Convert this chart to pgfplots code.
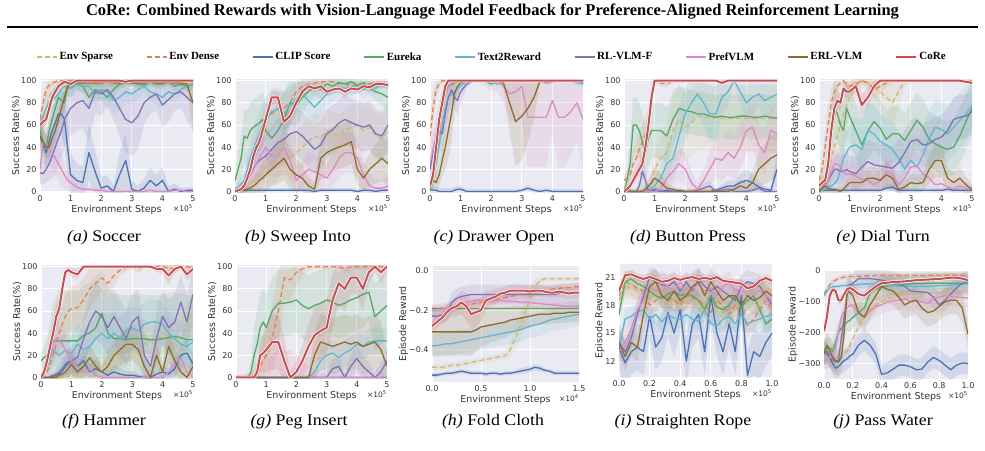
\documentclass[border=0pt]{standalone}
\usepackage{graphicx}
\usepackage{pgfplots}
\pgfplotsset{compat=1.18}
\usepackage{pgfplotstable}
\usepgfplotslibrary{fillbetween}
\usepackage{fontspec}
\setmainfont{Liberation Serif}
\newfontfamily\dejavu{DejaVu Sans}

\definecolor{cS}{HTML}{CCB974}
\definecolor{cD}{HTML}{DD8452}
\definecolor{cC}{HTML}{4C72B0}
\definecolor{cE}{HTML}{55A868}
\definecolor{cT}{HTML}{64B5CD}
\definecolor{cR}{HTML}{8172B3}
\definecolor{cP}{HTML}{DA8BC3}
\definecolor{cB}{HTML}{8C6D2C}
\definecolor{cK}{HTML}{C44E52}
\definecolor{bgc}{HTML}{EAEAF2}
\definecolor{txt}{HTML}{333333}

\pgfplotsset{
  rl/.style={
    scale only axis, width=153pt, height=113pt, anchor=south west,
    axis background/.style={fill=bgc},
    axis line style={draw=none},
    major tick length=0pt,
    grid=major, grid style={white, line width=0.9pt},
    tick label style={font=\dejavu\fontsize{8}{9}\selectfont, text=txt},
    label style={font=\dejavu\fontsize{9.5}{11}\selectfont, text=txt},
    xlabel style={yshift=3pt},
    ylabel style={yshift=-6pt},
    /pgf/number format/assume math mode=true,
    scaled ticks=false,
    xlabel={Environment Steps},
    every axis plot/.append style={line join=round},
    legend image code/.code={\draw[##1] (0pt,0pt) -- (20pt,0pt);},
  },
  sr/.style={xmin=0, xmax=5, xtick={0,1,2,3,4,5}, ymin=-0.5, ymax=101.5,
    ytick={0,20,40,60,80,100}, ylabel={Success Rate(\%)}},
  xnote/.style={extra description/.code={
    \node[anchor=north east, inner sep=0pt, yshift=-12pt,
      font=\dejavu\fontsize{7.5}{8}\selectfont, text=txt] at (1,0) {×10\textsuperscript{#1}};}},
  lnS/.style={cS, line width=1.3pt, dash pattern=on 5pt off 3pt},
  lnD/.style={cD, line width=1.3pt, dash pattern=on 5pt off 3pt},
  lnC/.style={cC, line width=1.3pt},
  lnE/.style={cE, line width=1.3pt},
  lnT/.style={cT, line width=1.3pt},
  lnR/.style={cR, line width=1.3pt},
  lnP/.style={cP, line width=1.3pt},
  lnB/.style={cB, line width=1.3pt},
  lnK/.style={cK, line width=2pt},
}

% shaded spread band of one series: column #2 with its spread in column #2e
\newcommand\band[3]{%
  \addplot[draw=none, forget plot, name path=u#2] table[x=x, y expr=\thisrow{#2}+\thisrow{#2e}]{#1};
  \addplot[draw=none, forget plot, name path=l#2] table[x=x, y expr=\thisrow{#2}-\thisrow{#2e}]{#1};
  \addplot[fill=#3, fill opacity=0.15, draw=none, forget plot] fill between[of=u#2 and l#2];
}
% all nine methods of one task
\newcommand\curves[1]{%
  \band{#1}{S}{cS}\band{#1}{D}{cD}\band{#1}{C}{cC}\band{#1}{E}{cE}\band{#1}{T}{cT}%
  \band{#1}{R}{cR}\band{#1}{P}{cP}\band{#1}{B}{cB}\band{#1}{K}{cK}%
  \addplot[lnS] table[x=x, y=S]{#1};
  \addplot[lnD] table[x=x, y=D]{#1};
  \addplot[lnC] table[x=x, y=C]{#1};
  \addplot[lnE] table[x=x, y=E]{#1};
  \addplot[lnT] table[x=x, y=T]{#1};
  \addplot[lnR] table[x=x, y=R]{#1};
  \addplot[lnP] table[x=x, y=P]{#1};
  \addplot[lnB] table[x=x, y=B]{#1};
  \addplot[white, line width=3.4pt, forget plot] table[x=x, y=K]{#1};
  \addplot[lnK] table[x=x, y=K]{#1};
}
% sub-figure caption
\newcommand\subcap[3]{\node at (#1,-#2) {\scalebox{1.1}[1]{#3}};}

% Soccer
\pgfplotstableread{
x S Se D De C Ce E Ee T Te R Re P Pe B Be K Ke
0.0 50 12 65 10 50 15 55 12 60 12 17 10 20 15 50 10 60 5
0.1 60 12 80 8 42 15 45 12 68 12 16 10 45 15 45 10 63 5
0.2 75 12 92 6 35 15 40 12 75 12 20 12 42 15 40 10 65 5
0.3 85 10 96 4 45 18 55 12 80 10 25 15 38 15 40 10 75 5
0.4 90 8 98 3 55 20 65 12 82 10 32 20 35 15 48 10 85 4
0.5 93 6 99 2 62 20 75 10 85 10 40 25 30 15 55 10 90 3
0.6 95 5 100 2 70 20 85 10 88 10 48 25 25 15 65 10 95 3
0.7 96 5 100 2 70 20 82 10 92 8 55 25 20 15 75 10 97 2
0.8 97 4 100 2 65 25 80 10 95 8 65 25 15 12 85 10 99 2
0.9 97 4 100 2 40 25 95 8 94 8 70 25 10 10 95 5 98 2
1.0 96 4 100 2 15 20 93 8 93 8 75 25 8 8 97 3 97 2
1.2 97 4 99 2 10 15 97 5 97 6 80 25 4 5 98 3 100 1
1.4 96 4 100 2 8 15 95 6 95 6 82 25 2 4 98 3 100 1
1.6 97 4 100 2 35 25 85 10 95 8 75 30 2 3 98 3 100 1
1.8 96 4 99 2 18 20 92 8 88 10 90 20 1 2 98 3 100 1
2.0 97 4 100 2 3 10 90 8 92 8 88 20 1 2 98 3 100 1
2.2 98 3 100 2 5 10 85 10 90 8 92 15 0 2 99 3 100 1
2.4 97 3 100 2 0 5 92 8 82 12 85 20 0 2 98 3 100 1
2.6 96 3 99 2 15 20 97 4 85 12 75 25 0 2 98 3 100 1
2.8 97 3 100 2 28 25 98 3 90 10 65 30 0 2 99 3 99 1
3.0 98 3 100 2 2 8 98 3 88 10 62 30 0 2 98 3 100 1
3.2 97 3 100 2 0 5 97 4 92 8 68 30 0 2 98 3 100 1
3.4 98 3 100 2 3 8 96 4 95 6 80 20 0 2 98 3 100 1
3.6 98 3 100 2 10 12 99 2 90 8 85 15 1 2 99 3 100 1
3.8 97 3 100 2 5 10 97 4 88 10 88 15 0 2 98 3 100 1
4.0 98 3 100 2 10 12 97 4 85 10 78 20 0 2 98 3 100 1
4.2 98 3 100 2 0 5 99 2 90 8 83 20 0 2 99 3 100 1
4.4 97 3 100 2 2 5 95 5 88 8 88 15 1 2 98 3 100 1
4.6 98 3 100 2 0 3 97 4 92 6 90 15 1 2 98 3 100 1
4.8 98 3 100 2 1 3 95 5 95 5 85 20 0 2 97 5 100 1
5.0 97 3 100 2 1 3 97 4 97 4 80 25 0 2 80 25 100 1
}\tA

% Sweep Into
\pgfplotstableread{
x S Se D De C Ce E Ee T Te R Re P Pe B Be K Ke
0.0 0 2 0 2 2 2 10 8 2 2 0 2 0 2 0 2 0 1
0.1 0 3 1 3 1 2 20 15 4 4 1 3 1 3 0 2 1 1
0.2 0 4 2 4 1 2 30 20 7 6 2 4 2 4 1 3 2 2
0.3 0 5 5 5 1 2 50 25 10 8 5 6 5 6 1 4 5 3
0.4 0 6 10 8 1 2 48 25 20 12 10 8 10 8 2 5 12 4
0.5 1 8 20 10 1 2 55 25 30 15 15 10 15 10 3 6 20 5
0.6 5 10 30 12 1 2 58 25 38 18 20 12 20 12 5 8 32 6
0.7 10 12 40 15 1 2 60 25 45 20 25 15 25 15 7 10 40 6
0.8 15 14 48 15 1 2 62 25 52 20 28 18 30 18 10 12 45 6
0.9 20 15 55 15 1 2 65 25 60 20 30 20 35 20 12 14 55 6
1.0 22 15 65 15 1 2 55 25 65 20 32 20 40 20 15 15 65 6
1.2 20 15 70 15 1 2 48 25 72 20 38 20 32 20 20 15 85 6
1.4 30 18 75 15 1 2 55 25 74 20 44 22 32 20 25 18 85 6
1.6 35 20 75 15 1 2 65 25 70 20 47 22 40 20 30 20 63 8
1.8 30 20 80 12 1 2 80 20 78 18 52 22 28 18 20 18 68 8
2.0 35 20 90 10 1 2 78 20 83 15 54 22 10 12 15 15 80 6
2.2 40 20 95 8 1 2 85 15 88 12 50 22 15 12 12 12 90 5
2.4 45 20 96 6 1 2 90 10 82 15 44 22 20 15 5 8 95 4
2.6 50 20 98 4 0 2 95 8 76 15 38 22 18 15 2 6 93 4
2.8 48 20 99 3 1 2 92 8 82 15 42 22 15 15 30 20 95 4
3.0 55 20 99 3 1 2 97 5 88 12 52 22 12 12 35 20 90 4
3.2 52 20 99 3 1 2 95 6 91 10 56 22 20 15 38 20 92 4
3.4 50 20 98 3 1 2 98 4 94 8 62 22 30 18 40 20 93 4
3.6 55 20 97 3 1 2 97 4 93 8 65 22 35 18 42 20 90 4
3.8 58 20 96 4 1 2 99 3 94 8 62 22 35 18 45 20 93 4
4.0 60 20 95 4 0 2 96 5 95 6 60 22 30 18 20 15 92 4
4.2 55 20 96 4 1 2 98 4 92 8 58 22 15 15 12 12 95 4
4.4 58 20 97 3 1 2 93 6 95 6 60 22 5 10 20 15 94 4
4.6 50 20 98 3 0 2 90 8 93 6 52 22 3 8 25 18 97 3
4.8 48 20 97 3 1 2 88 10 97 4 50 22 3 8 30 20 97 3
5.0 55 20 97 3 1 2 85 12 96 4 60 22 5 8 25 20 96 3
}\tB

% Drawer Open
\pgfplotstableread{
x S Se D De C Ce E Ee T Te R Re P Pe B Be K Ke
0.0 0 2 50 15 2 3 5 5 5 5 20 10 25 15 5 5 5 3
0.1 15 10 75 15 1 3 15 10 12 10 35 15 38 15 10 8 15 8
0.2 30 15 92 8 1 3 30 15 25 15 45 15 50 15 8 8 40 10
0.3 50 15 97 4 0 3 55 15 42 15 55 15 65 15 15 10 65 10
0.4 70 15 100 2 0 3 80 12 60 15 52 18 80 12 28 15 80 8
0.5 85 10 100 1 0 3 90 8 75 15 70 18 90 8 40 20 95 4
0.6 95 5 100 1 0 3 95 5 85 12 85 15 95 5 55 25 100 1
0.7 97 3 100 1 0 3 97 3 88 10 92 10 98 3 70 25 100 1
0.8 98 2 100 1 1 3 98 2 90 10 85 12 100 2 88 15 100 1
0.9 99 1 100 1 2 3 99 1 93 8 82 12 100 2 95 8 100 1
1.0 100 1 100 1 2 3 100 1 95 6 90 10 100 2 98 3 100 1
1.2 100 1 100 1 0 2 100 1 100 2 97 4 100 2 100 1 100 1
1.4 100 1 100 1 0 2 100 1 100 1 100 1 100 2 100 1 100 1
1.6 100 1 100 1 0 2 100 1 100 1 100 1 100 2 100 1 100 1
1.8 100 1 100 1 0 2 100 1 100 1 100 1 100 5 100 1 100 1
2.0 100 1 100 1 0 2 97 3 100 1 100 1 100 10 100 1 100 1
2.2 100 1 100 1 0 2 100 1 97 3 100 1 100 10 100 1 100 1
2.4 100 1 100 1 0 2 100 1 100 1 100 1 95 15 98 5 100 1
2.6 100 1 100 1 0 2 100 1 100 1 100 1 88 25 80 25 100 1
2.8 100 1 100 1 0 2 100 1 100 1 100 1 90 25 63 40 100 1
3.0 100 1 100 1 1 2 100 1 100 1 100 1 95 30 68 40 100 1
3.2 100 1 100 1 3 3 100 1 100 1 100 1 67 45 75 30 100 1
3.4 100 1 100 1 1 2 100 1 100 1 100 1 67 45 85 20 100 1
3.6 100 1 100 1 0 2 100 1 100 1 100 1 67 45 100 2 100 1
3.8 100 1 100 1 1 2 100 1 100 1 98 2 67 45 100 1 100 1
4.0 100 1 100 1 0 2 100 1 100 1 99 1 82 30 100 1 100 1
4.2 100 1 100 1 0 2 100 1 100 1 100 1 67 45 100 1 100 1
4.4 100 1 100 1 0 2 100 1 100 1 100 1 67 45 100 1 100 1
4.6 100 1 100 1 0 2 100 1 100 1 100 1 72 40 100 1 100 1
4.8 100 1 100 1 0 2 100 1 98 2 100 1 80 35 100 1 100 1
5.0 100 1 100 1 0 2 100 1 97 3 98 2 65 45 100 1 100 1
}\tC

% Button Press
\pgfplotstableread{
x S Se D De C Ce E Ee T Te R Re P Pe B Be K Ke
0.0 0 1 10 5 0 1 0 1 0 1 0 1 0 1 0 1 0 1
0.1 0 1 12 8 3 3 10 10 1 2 0 1 0 1 0 1 2 2
0.2 0 1 15 10 1 2 25 20 1 2 0 1 0 1 0 1 5 3
0.3 0 1 25 12 0 1 60 25 0 2 0 2 0 1 0 1 10 5
0.4 0 1 30 15 0 1 60 25 0 2 0 3 0 1 0 1 15 6
0.5 0 2 38 15 0 1 55 25 0 2 5 6 0 1 0 2 20 6
0.6 0 3 45 15 0 1 45 25 0 2 18 15 0 1 0 2 25 8
0.7 1 4 52 15 0 1 35 25 0 3 10 12 0 1 2 4 40 10
0.8 2 6 60 15 0 1 48 25 1 4 0 5 0 1 5 6 60 12
0.9 8 10 90 8 0 1 55 25 3 5 1 3 0 2 8 8 85 8
1.0 20 15 100 2 1 2 55 25 5 8 2 3 0 3 12 10 100 1
1.2 30 20 98 3 0 1 55 25 12 12 0 2 2 5 8 8 100 1
1.4 35 25 97 3 1 2 50 25 25 18 0 2 12 10 3 5 100 1
1.6 55 30 100 2 0 1 65 25 30 20 0 2 18 12 2 3 100 1
1.8 65 30 100 2 1 2 75 20 50 25 0 2 25 15 0 2 100 1
2.0 58 30 100 2 0 1 73 20 70 25 0 2 20 15 0 2 100 1
2.2 62 30 100 1 0 1 72 20 80 20 0 2 8 10 0 2 100 1
2.4 68 30 100 1 0 1 70 20 88 15 1 2 2 5 0 2 100 1
2.6 67 30 100 1 0 1 70 20 80 20 3 4 10 10 0 2 100 1
2.8 67 30 100 1 0 1 68 20 70 25 5 5 20 15 0 2 100 1
3.0 67 30 100 1 1 2 67 20 70 25 0 3 30 18 0 2 100 1
3.2 66 30 100 1 3 3 68 20 85 15 1 2 28 18 0 2 98 2
3.4 66 30 100 1 5 5 67 20 90 12 2 3 35 20 0 2 100 1
3.6 66 30 100 1 5 5 67 20 100 5 0 2 30 20 2 4 100 1
3.8 66 30 100 1 8 8 68 20 90 12 0 2 40 20 5 6 100 1
4.0 66 30 100 1 10 10 68 20 80 18 0 2 55 20 3 5 100 1
4.2 66 30 100 1 8 8 67 20 85 15 1 2 58 20 8 10 100 1
4.4 66 30 100 1 4 5 67 20 88 12 3 4 42 20 20 15 100 1
4.6 66 30 100 1 2 3 68 20 82 15 0 2 35 20 25 18 100 1
4.8 66 30 100 1 1 2 67 20 85 15 0 2 55 20 30 20 100 1
5.0 66 30 100 1 20 15 66 20 88 12 0 2 52 20 33 20 100 1
}\tD

% Dial Turn
\pgfplotstableread{
x S Se D De C Ce E Ee T Te R Re P Pe B Be K Ke
0.0 0 2 10 5 2 2 5 5 0 2 0 2 0 2 0 2 5 3
0.1 1 5 20 10 1 2 8 8 1 3 3 4 3 4 3 3 8 4
0.2 5 10 40 15 1 2 12 12 2 4 7 6 6 6 5 5 10 6
0.3 15 15 60 20 1 2 20 20 3 5 10 8 10 8 3 4 25 10
0.4 30 20 80 15 1 2 50 25 5 8 15 10 18 10 2 3 55 12
0.5 40 25 90 10 1 2 75 25 7 10 20 12 25 12 2 3 75 10
0.6 50 25 95 6 1 2 70 25 10 12 20 14 25 12 1 3 82 8
0.7 60 25 98 4 1 2 60 25 20 15 18 15 22 12 0 3 80 8
0.8 70 25 100 3 1 2 55 25 30 20 18 15 18 12 2 4 93 6
0.9 78 20 97 4 1 2 75 25 35 20 20 15 15 12 5 6 90 6
1.0 85 15 95 5 1 2 68 25 40 20 18 15 16 12 8 8 90 6
1.2 95 10 97 4 1 2 55 25 42 25 16 15 14 12 8 8 95 5
1.4 100 5 100 3 1 2 42 25 38 25 22 18 11 12 8 8 78 10
1.6 97 6 98 4 1 2 55 25 55 25 27 20 10 10 12 10 85 8
1.8 95 8 92 8 1 2 63 25 52 25 24 20 6 8 12 10 95 5
2.0 90 10 95 6 1 2 57 25 45 25 23 20 10 10 10 10 100 2
2.2 85 15 98 4 3 3 47 25 42 25 22 20 18 12 15 12 100 1
2.4 80 20 100 2 4 4 52 25 38 25 21 20 15 12 12 10 100 1
2.6 90 15 100 2 1 2 52 25 30 25 26 20 6 8 2 4 100 1
2.8 100 5 100 1 1 2 46 25 20 20 35 20 12 10 4 5 100 1
3.0 100 3 100 1 1 2 55 25 28 25 45 20 22 12 8 8 100 1
3.2 100 2 100 1 1 2 64 25 22 22 47 20 23 12 7 8 100 1
3.4 100 2 100 1 1 2 58 25 33 25 42 20 16 12 8 8 100 1
3.6 100 2 100 1 1 2 47 25 48 25 43 20 12 10 20 12 100 1
3.8 100 2 100 1 1 2 43 25 58 25 47 20 6 8 28 15 100 1
4.0 100 2 100 1 1 2 40 25 56 25 49 20 7 8 28 15 100 1
4.2 100 2 100 1 2 2 38 25 52 25 55 20 4 5 12 10 100 1
4.4 100 2 100 1 1 2 40 25 58 25 65 20 2 4 8 8 100 1
4.6 100 2 100 1 1 2 50 25 64 25 67 20 5 6 12 10 100 1
4.8 100 2 100 1 1 2 63 25 70 25 68 20 3 5 6 8 99 1
5.0 100 2 100 1 1 2 75 25 78 20 72 20 2 4 2 4 98 2
}\tE

% Hammer
\pgfplotstableread{
x S Se D De C Ce E Ee T Te R Re P Pe B Be K Ke
0.0 0 1 0 2 0 1 15 5 0 2 0 1 0 2 0 1 0 2
0.1 0 1 2 3 0 1 18 10 5 5 0 1 5 5 0 1 5 4
0.2 0 1 5 5 0 1 20 15 10 8 0 1 12 8 0 1 15 8
0.3 0 1 12 8 0 1 25 25 18 10 1 2 20 10 0 1 28 10
0.4 0 1 20 10 1 2 33 35 25 12 2 3 30 12 0 1 40 12
0.5 0 1 30 12 2 3 33 40 22 15 3 4 35 15 0 2 55 12
0.6 0 1 40 15 3 4 33 45 20 15 5 6 33 15 2 3 62 10
0.7 0 2 48 18 6 6 33 45 22 15 8 8 30 15 3 4 80 8
0.8 1 2 55 20 10 8 33 45 25 15 12 10 25 15 5 6 95 4
0.9 1 3 60 20 13 10 33 45 23 15 14 12 20 12 8 8 97 3
1.0 2 3 62 20 15 10 33 45 22 15 15 12 15 12 12 10 95 4
1.2 3 4 63 20 10 8 33 45 30 18 18 15 10 10 5 8 93 5
1.4 5 5 70 20 15 10 38 45 25 18 35 20 5 8 10 10 100 2
1.6 6 6 80 18 5 6 40 45 28 20 50 25 8 8 18 12 100 1
1.8 8 8 85 15 8 8 45 45 35 20 60 25 2 4 10 10 100 1
2.0 10 10 90 12 5 6 58 40 40 20 55 25 0 2 5 8 100 1
2.2 14 12 85 15 2 4 40 40 35 20 45 25 0 2 10 10 100 1
2.4 18 14 92 10 5 6 35 40 40 20 55 25 0 2 20 12 100 1
2.6 22 15 97 5 3 5 35 40 35 20 45 25 0 2 25 15 100 1
2.8 25 15 99 3 2 4 34 40 42 20 35 25 0 2 30 15 100 1
3.0 32 15 100 2 2 4 35 40 45 20 50 25 0 2 30 15 100 1
3.2 35 15 98 4 1 3 35 40 42 20 55 25 0 2 25 15 100 1
3.4 38 15 100 2 0 2 35 40 48 20 20 20 0 2 10 10 100 1
3.6 32 15 100 2 0 2 34 40 50 20 10 15 0 2 0 5 100 1
3.8 30 15 100 2 3 4 34 40 50 20 35 25 0 2 20 12 98 3
4.0 40 18 100 2 5 6 35 40 48 20 55 25 0 2 5 8 98 4
4.2 38 18 99 3 3 5 36 40 40 20 45 25 5 6 28 15 92 8
4.4 25 15 98 4 8 8 37 40 35 20 50 25 12 10 15 12 98 4
4.6 35 18 100 2 20 12 36 40 30 20 68 25 18 12 5 8 100 2
4.8 45 20 100 2 22 12 34 40 28 20 50 25 5 6 0 5 93 6
5.0 60 20 99 3 12 10 34 40 32 20 75 25 0 3 10 10 98 4
}\tF

% Peg Insert
\pgfplotstableread{
x S Se D De C Ce E Ee T Te R Re P Pe B Be K Ke
0.0 0 1 0 2 0 1 0 2 0 1 0 1 0 1 0 1 0 1
0.1 0 1 0 2 0 1 0 2 0 1 0 1 0 1 0 1 0 1
0.2 0 1 0 2 0 1 0 2 0 1 0 1 0 1 0 1 0 1
0.3 0 1 0 2 0 1 0 3 0 1 0 1 0 1 0 1 0 1
0.4 0 1 0 3 0 1 0 5 0 1 0 1 0 2 0 1 0 1
0.5 0 1 0 5 0 1 5 10 0 1 0 1 0 3 0 1 0 2
0.6 0 1 0 8 1 2 20 25 0 1 0 1 0 5 0 1 0 3
0.7 0 1 2 10 0 1 30 30 0 1 0 1 0 8 0 1 5 8
0.8 0 1 10 15 0 1 45 30 0 1 0 1 0 10 0 1 20 15
0.9 0 1 15 20 0 1 50 30 0 1 0 1 0 12 0 1 22 18
1.0 0 1 20 25 0 1 45 30 0 1 0 1 0 15 0 1 25 20
1.2 0 1 35 30 0 1 60 30 0 1 0 1 0 20 0 1 32 25
1.4 0 1 60 35 0 1 67 30 0 1 0 1 0 25 0 1 32 25
1.6 0 1 90 20 0 1 67 30 0 1 0 1 0 25 0 1 15 20
1.8 0 1 88 20 0 1 68 30 0 1 0 1 0 25 0 1 0 5
2.0 0 1 95 12 0 1 70 30 0 1 0 1 0 20 0 1 5 10
2.2 0 1 98 6 0 1 65 30 0 1 0 2 0 15 0 1 15 15
2.4 0 1 100 3 0 1 62 30 0 2 0 2 0 10 0 2 28 20
2.6 0 1 100 2 0 1 65 30 5 5 0 2 0 8 20 20 38 25
2.8 0 1 100 2 0 1 67 30 15 10 0 3 0 5 32 25 42 25
3.0 0 1 100 2 0 1 70 30 20 12 0 5 0 5 30 25 45 25
3.2 0 1 100 2 0 1 68 30 22 12 8 8 0 5 28 25 70 25
3.4 0 1 100 2 0 1 65 30 18 12 10 10 0 5 30 25 85 20
3.6 0 1 98 4 0 1 67 30 22 12 0 5 0 5 32 25 80 20
3.8 0 1 100 2 0 1 70 30 25 12 10 10 0 5 30 25 90 15
4.0 0 1 100 2 0 1 72 30 30 12 17 12 0 5 32 25 90 15
4.2 0 1 100 2 0 1 75 30 28 12 10 10 0 5 28 25 80 20
4.4 0 1 100 2 0 1 77 25 32 12 5 8 0 5 30 25 95 10
4.6 0 1 100 2 0 1 55 30 33 12 0 5 0 5 32 25 100 5
4.8 0 1 100 2 0 1 60 30 33 12 5 8 0 5 25 25 95 10
5.0 0 1 100 2 0 1 65 30 33 12 15 10 0 5 10 15 100 5
}\tG

% Fold Cloth
\pgfplotstableread{
x S Se D De C Ce E Ee T Te R Re P Pe B Be K Ke
0.00 -0.49 0.015 -0.19 0.02 -0.53 0.01 -0.19 0.005 -0.38 0.06 -0.23 0.04 -0.20 0.03 -0.31 0.12 -0.28 0.03
0.05 -0.49 0.015 -0.19 0.02 -0.53 0.01 -0.19 0.005 -0.38 0.06 -0.23 0.04 -0.20 0.03 -0.31 0.12 -0.26 0.03
0.10 -0.49 0.015 -0.19 0.02 -0.525 0.01 -0.19 0.005 -0.375 0.06 -0.225 0.04 -0.195 0.03 -0.31 0.12 -0.24 0.03
0.15 -0.485 0.015 -0.19 0.02 -0.52 0.01 -0.19 0.005 -0.37 0.06 -0.22 0.04 -0.19 0.03 -0.31 0.12 -0.21 0.04
0.20 -0.48 0.015 -0.19 0.02 -0.52 0.01 -0.19 0.005 -0.37 0.06 -0.16 0.05 -0.185 0.03 -0.31 0.12 -0.19 0.04
0.25 -0.48 0.015 -0.185 0.02 -0.515 0.01 -0.19 0.005 -0.365 0.06 -0.14 0.05 -0.18 0.03 -0.31 0.12 -0.18 0.05
0.30 -0.475 0.015 -0.18 0.02 -0.51 0.01 -0.19 0.005 -0.36 0.06 -0.13 0.05 -0.17 0.03 -0.31 0.12 -0.16 0.06
0.35 -0.47 0.015 -0.175 0.02 -0.515 0.01 -0.19 0.005 -0.355 0.06 -0.125 0.05 -0.16 0.03 -0.31 0.12 -0.18 0.07
0.40 -0.465 0.015 -0.17 0.02 -0.52 0.01 -0.19 0.005 -0.35 0.06 -0.12 0.05 -0.155 0.03 -0.31 0.12 -0.22 0.07
0.45 -0.46 0.015 -0.165 0.02 -0.52 0.01 -0.19 0.005 -0.345 0.06 -0.12 0.05 -0.15 0.03 -0.30 0.11 -0.21 0.07
0.50 -0.455 0.015 -0.16 0.02 -0.52 0.01 -0.19 0.005 -0.34 0.06 -0.12 0.05 -0.15 0.03 -0.285 0.10 -0.20 0.06
0.55 -0.45 0.015 -0.155 0.02 -0.525 0.01 -0.19 0.005 -0.335 0.06 -0.12 0.05 -0.15 0.03 -0.28 0.10 -0.15 0.05
0.60 -0.445 0.015 -0.15 0.02 -0.52 0.01 -0.19 0.005 -0.33 0.06 -0.12 0.05 -0.15 0.03 -0.275 0.09 -0.14 0.04
0.65 -0.44 0.015 -0.145 0.02 -0.52 0.01 -0.19 0.005 -0.325 0.06 -0.12 0.05 -0.15 0.03 -0.27 0.09 -0.13 0.04
0.70 -0.435 0.015 -0.14 0.02 -0.525 0.01 -0.19 0.005 -0.32 0.06 -0.12 0.05 -0.15 0.03 -0.265 0.08 -0.115 0.03
0.75 -0.43 0.02 -0.135 0.02 -0.52 0.01 -0.19 0.005 -0.315 0.06 -0.12 0.05 -0.155 0.03 -0.26 0.08 -0.11 0.03
0.80 -0.40 0.04 -0.13 0.02 -0.52 0.01 -0.19 0.005 -0.31 0.06 -0.12 0.05 -0.155 0.03 -0.25 0.07 -0.10 0.03
0.85 -0.34 0.06 -0.125 0.02 -0.515 0.01 -0.19 0.005 -0.305 0.06 -0.12 0.05 -0.155 0.03 -0.245 0.07 -0.10 0.03
0.90 -0.28 0.07 -0.12 0.02 -0.51 0.015 -0.19 0.005 -0.30 0.06 -0.12 0.05 -0.16 0.03 -0.24 0.06 -0.10 0.03
0.95 -0.21 0.07 -0.12 0.02 -0.505 0.015 -0.19 0.005 -0.29 0.06 -0.12 0.05 -0.16 0.03 -0.235 0.06 -0.10 0.03
1.00 -0.14 0.06 -0.115 0.02 -0.50 0.015 -0.19 0.005 -0.28 0.06 -0.12 0.05 -0.16 0.03 -0.23 0.06 -0.105 0.03
1.05 -0.08 0.04 -0.11 0.02 -0.49 0.015 -0.19 0.005 -0.275 0.06 -0.12 0.05 -0.165 0.03 -0.225 0.05 -0.10 0.03
1.10 -0.05 0.02 -0.105 0.02 -0.495 0.015 -0.19 0.005 -0.27 0.06 -0.12 0.05 -0.165 0.03 -0.22 0.05 -0.10 0.03
1.15 -0.04 0.01 -0.10 0.02 -0.505 0.01 -0.19 0.005 -0.26 0.06 -0.12 0.05 -0.17 0.03 -0.22 0.05 -0.105 0.03
1.20 -0.04 0.01 -0.095 0.02 -0.51 0.01 -0.19 0.005 -0.25 0.06 -0.12 0.05 -0.17 0.03 -0.22 0.05 -0.11 0.03
1.25 -0.04 0.01 -0.09 0.02 -0.52 0.01 -0.19 0.005 -0.245 0.06 -0.12 0.05 -0.175 0.03 -0.215 0.05 -0.11 0.03
1.30 -0.04 0.01 -0.09 0.02 -0.52 0.01 -0.19 0.005 -0.24 0.06 -0.115 0.05 -0.175 0.03 -0.215 0.05 -0.105 0.03
1.35 -0.04 0.01 -0.085 0.02 -0.52 0.01 -0.19 0.005 -0.235 0.06 -0.115 0.05 -0.18 0.03 -0.215 0.05 -0.11 0.03
1.40 -0.04 0.01 -0.085 0.02 -0.52 0.01 -0.19 0.005 -0.23 0.06 -0.115 0.05 -0.18 0.03 -0.21 0.05 -0.115 0.03
1.45 -0.04 0.01 -0.08 0.02 -0.52 0.01 -0.19 0.005 -0.225 0.06 -0.115 0.05 -0.18 0.03 -0.21 0.05 -0.11 0.03
1.50 -0.04 0.01 -0.08 0.02 -0.52 0.01 -0.19 0.005 -0.22 0.06 -0.11 0.05 -0.18 0.03 -0.21 0.05 -0.11 0.03
}\tH

% Straighten Rope
\pgfplotstableread{
x S Se D De C Ce E Ee T Te R Re P Pe B Be K Ke
0.00 18.5 1.2 19.0 1.2 13.5 2.5 17.0 1.0 13.5 1.0 14.0 1.2 13.0 1.2 14.0 1.5 19.5 0.4
0.04 20.0 1.2 20.5 1.2 11.8 2.5 20.5 1.0 16.5 1.0 13.0 1.2 14.0 1.2 12.5 1.5 21.2 0.4
0.08 19.8 1.2 20.2 1.2 13.0 2.5 20.8 1.0 16.8 1.0 14.5 1.2 15.5 1.2 14.0 1.5 21.3 0.4
0.12 19.6 1.2 19.8 1.2 13.5 2.5 20.3 1.0 17.3 1.0 17.0 1.2 17.5 1.2 13.5 1.5 21.0 0.4
0.16 19.5 1.2 19.5 1.2 13.0 2.5 20.0 1.0 17.5 1.0 19.0 1.2 18.5 1.2 17.0 1.5 20.8 0.4
0.20 19.3 1.2 18.0 1.2 16.8 2.5 19.5 1.0 16.5 1.0 21.0 1.2 20.0 1.2 20.0 1.5 21.0 0.4
0.24 20.5 1.2 18.5 1.2 13.5 2.5 19.0 1.0 17.0 1.0 20.5 1.2 19.5 1.2 20.5 1.5 20.8 0.4
0.28 19.0 1.2 19.0 1.2 14.5 2.5 18.7 1.0 16.2 1.0 20.2 1.2 20.5 1.2 19.0 1.5 20.5 0.4
0.32 18.8 1.2 18.8 1.2 17.2 2.5 19.2 1.0 17.0 1.0 20.0 1.2 20.0 1.2 18.5 1.5 20.6 0.4
0.36 18.5 1.2 18.5 1.2 15.0 2.5 19.5 1.0 16.6 1.0 20.5 1.2 19.5 1.2 19.5 1.5 20.9 0.4
0.40 18.5 1.2 18.0 1.2 17.5 2.5 19.0 1.0 16.5 1.0 19.5 1.2 20.5 1.2 18.5 1.5 20.7 0.4
0.44 19.5 1.2 19.0 1.2 12.0 2.5 19.2 1.0 17.0 1.0 20.5 1.2 19.0 1.2 19.0 1.5 20.9 0.4
0.48 18.5 1.2 18.8 1.2 16.0 2.5 19.0 1.0 16.5 1.0 19.5 1.2 19.8 1.2 20.0 1.5 21.0 0.4
0.52 18.0 1.2 18.5 1.2 17.0 2.5 18.5 1.0 16.3 1.0 20.8 1.2 20.2 1.2 20.5 1.5 20.8 0.4
0.56 17.0 1.2 18.0 1.2 13.0 2.5 17.5 1.0 17.5 1.0 20.0 1.2 19.5 1.2 19.0 1.5 20.9 0.4
0.60 18.5 1.2 17.2 1.2 19.0 2.5 19.0 1.0 16.0 1.0 19.5 1.2 19.8 1.2 20.5 1.5 20.8 0.4
0.64 17.5 1.2 18.5 1.2 15.0 2.5 17.8 1.0 15.8 1.0 20.0 1.2 19.0 1.2 19.5 1.5 21.0 0.4
0.68 16.5 1.2 18.0 1.2 13.0 2.5 17.5 1.0 16.5 1.0 19.5 1.2 20.0 1.2 18.5 1.5 20.6 0.4
0.72 17.0 1.2 17.0 1.2 16.0 2.5 18.0 1.0 16.8 1.0 19.0 1.2 20.5 1.2 19.0 1.5 20.5 0.4
0.76 17.5 1.2 18.0 1.2 13.0 2.5 19.0 1.0 16.0 1.0 18.5 1.2 19.5 1.2 19.0 1.5 20.4 0.4
0.80 18.0 1.2 17.0 1.2 19.0 2.5 17.8 1.0 17.0 1.0 20.0 1.2 19.8 1.2 18.0 1.5 20.3 0.4
0.84 18.5 1.2 15.8 1.2 10.5 2.5 18.5 1.0 16.0 1.0 20.5 1.2 19.0 1.2 19.0 1.5 19.8 0.4
0.88 19.0 1.2 16.5 1.2 13.0 2.5 19.0 1.0 16.3 1.0 20.3 1.2 19.3 1.2 18.5 1.5 20.0 0.4
0.92 20.0 1.2 17.5 1.2 12.5 2.5 17.5 1.0 16.5 1.0 20.0 1.2 19.5 1.2 18.8 1.5 20.6 0.4
0.96 19.8 1.2 18.5 1.2 14.0 2.5 16.0 1.0 16.8 1.0 19.0 1.2 19.0 1.2 19.5 1.5 20.9 0.4
1.00 19.5 1.2 17.5 1.2 15.0 2.5 16.5 1.0 17.0 1.0 18.0 1.2 18.5 1.2 19.0 1.5 20.6 0.4
}\tI

% Pass Water
\pgfplotstableread{
x S Se D De C Ce E Ee T Te R Re P Pe B Be K Ke
0.00 -300 15 -75 8 -265 35 -255 35 -80 12 -260 35 -290 30 -270 45 -195 15
0.02 -298 15 -60 8 -260 35 -250 35 -65 12 -270 35 -288 30 -240 45 -150 15
0.04 -297 15 -45 8 -280 35 -250 35 -55 12 -280 35 -280 30 -260 45 -80 15
0.06 -295 15 -35 8 -300 35 -260 35 -52 12 -288 35 -265 30 -280 45 -60 15
0.08 -290 15 -30 8 -315 35 -230 35 -50 12 -295 35 -250 30 -290 45 -65 15
0.10 -280 15 -25 8 -310 35 -200 35 -50 12 -290 35 -200 30 -295 45 -95 15
0.12 -275 15 -22 8 -300 35 -185 35 -48 12 -220 35 -150 30 -280 45 -95 15
0.14 -265 15 -20 8 -290 35 -175 35 -47 12 -150 35 -130 30 -200 45 -75 15
0.16 -260 15 -19 8 -285 35 -165 35 -46 12 -80 35 -120 30 -65 45 -60 15
0.18 -240 15 -18 8 -275 35 -160 35 -45 12 -45 35 -112 30 -70 45 -55 15
0.20 -220 15 -18 8 -270 35 -150 35 -45 12 -40 35 -110 30 -80 45 -60 15
0.24 -180 15 -17 8 -240 35 -135 35 -44 12 -25 35 -140 30 -135 45 -75 15
0.28 -150 15 -16 8 -225 35 -120 35 -42 12 -25 35 -150 30 -150 45 -80 15
0.32 -125 15 -16 8 -240 35 -70 35 -42 12 -25 35 -130 30 -110 45 -65 15
0.36 -110 15 -15 8 -270 35 -58 35 -43 12 -27 35 -115 30 -80 45 -50 15
0.40 -100 15 -15 8 -335 35 -50 35 -45 12 -30 35 -110 30 -50 45 -40 15
0.44 -90 15 -15 8 -330 35 -48 35 -46 12 -35 35 -100 30 -60 45 -38 15
0.48 -85 15 -15 8 -318 35 -46 35 -48 12 -38 35 -97 30 -65 45 -36 15
0.52 -80 15 -15 8 -305 35 -45 35 -49 12 -42 35 -95 30 -85 45 -35 15
0.56 -78 15 -15 8 -305 35 -44 35 -50 12 -50 35 -90 30 -110 45 -34 15
0.60 -75 15 -15 8 -310 35 -42 35 -50 12 -65 35 -100 30 -100 45 -32 15
0.64 -74 15 -15 8 -320 35 -41 35 -50 12 -67 35 -95 30 -95 45 -30 15
0.68 -73 15 -15 8 -318 35 -41 35 -50 12 -68 35 -100 30 -120 45 -29 15
0.72 -72 15 -14 8 -295 35 -40 35 -50 12 -70 35 -105 30 -135 45 -28 15
0.76 -71 15 -14 8 -280 35 -40 35 -49 12 -85 35 -90 30 -130 45 -27 15
0.80 -70 15 -14 8 -290 35 -40 35 -48 12 -110 35 -85 30 -115 45 -26 15
0.84 -69 15 -14 8 -305 35 -40 35 -47 12 -95 35 -80 30 -100 45 -24 15
0.88 -68 15 -14 8 -320 35 -40 35 -46 12 -75 35 -83 30 -95 45 -22 15
0.92 -67 15 -15 8 -305 35 -40 35 -45 12 -55 35 -85 30 -95 45 -22 15
0.96 -66 15 -15 8 -298 35 -40 35 -43 12 -40 35 -86 30 -120 45 -25 15
1.00 -66 15 -15 8 -300 35 -40 35 -42 12 -35 35 -88 30 -205 45 -30 15
}\tJ

\begin{document}
\begin{tikzpicture}[x=1pt, y=1pt]

\node[font=\bfseries\fontsize{16.5}{18}\selectfont] at (492.5,-12) {CoRe: Combined Rewards with Vision-Language Model Feedback for Preference-Aligned Reinforcement Learning};
\draw[line width=1.8pt] (7,-27) -- (978,-27);

% first row
\begin{axis}[rl, sr, at={(40pt,-192pt)}, xnote=5,
  legend columns=9,
  legend style={at={(2.954,1.195)}, anchor=center, draw=none, fill=none,
    font=\bfseries\fontsize{11}{12}\selectfont,
    /tikz/every even column/.append style={column sep=31pt}}]
\curves{\tA}
\legend{Env Sparse, Env Dense, CLIP Score, Eureka, Text2Reward, RL-VLM-F, PrefVLM, ERL-VLM, CoRe}
\end{axis}
\begin{axis}[rl, sr, at={(235pt,-192pt)}, xnote=5]
\curves{\tB}
\end{axis}
\begin{axis}[rl, sr, at={(430pt,-192pt)}, xnote=5]
\curves{\tC}
\end{axis}
\begin{axis}[rl, sr, at={(624pt,-192pt)}, xnote=5]
\curves{\tD}
\end{axis}
\begin{axis}[rl, sr, at={(819pt,-192pt)}, xnote=5]
\curves{\tE}
\end{axis}

% second row
\begin{axis}[rl, sr, at={(41pt,-378pt)}, width=152pt, xnote=5]
\curves{\tF}
\end{axis}
\begin{axis}[rl, sr, at={(236pt,-378pt)}, width=151pt, xnote=5]
\curves{\tG}
\end{axis}
\begin{axis}[rl, at={(432pt,-382pt)}, width=147pt, height=116pt, xnote=4,
  xmin=0, xmax=1.5, xtick={0,0.5,1,1.5}, xticklabels={0.0,0.5,1.0,1.5},
  ymin=-0.565, ymax=0.025, ytick={-0.4,-0.2,0}, yticklabels={−0.4,−0.2,0.0},
  ylabel={Episode Reward}]
\curves{\tH}
\end{axis}
\begin{axis}[rl, at={(619pt,-377pt)}, width=153pt, height=113pt, xnote=5,
  xmin=0, xmax=1, xtick={0,0.2,0.4,0.6,0.8,1}, xticklabels={0.0,0.2,0.4,0.6,0.8,1.0},
  ymin=10.3, ymax=22.4, ytick={12,15,18,21},
  ylabel={Episode Reward}]
\curves{\tI}
\end{axis}
\begin{axis}[rl, at={(824pt,-379pt)}, width=144pt, height=109pt, xnote=5,
  xmin=0, xmax=1, xtick={0,0.2,0.4,0.6,0.8,1}, xticklabels={0.0,0.2,0.4,0.6,0.8,1.0},
  ymin=-350, ymax=3, ytick={-300,-200,-100,0}, yticklabels={−300,−200,−100,0},
  ylabel={Episode Reward}]
\curves{\tJ}
\end{axis}

% sub-captions
\begin{scope}[every node/.style={font=\fontsize{16.2}{18}\selectfont}]
\subcap{104}{238}{\textit{(a)} Soccer}
\subcap{298}{238}{\textit{(b)} Sweep Into}
\subcap{494}{238}{\textit{(c)} Drawer Open}
\subcap{688}{238}{\textit{(d)} Button Press}
\subcap{883}{238}{\textit{(e)} Dial Turn}
\subcap{104}{422}{\textit{(f)} Hammer}
\subcap{299}{422}{\textit{(g)} Peg Insert}
\subcap{493}{422}{\textit{(h)} Fold Cloth}
\subcap{683}{422}{\textit{(i)} Straighten Rope}
\subcap{883}{422}{\textit{(j)} Pass Water}
\end{scope}

\pgfresetboundingbox
\path (0,0) rectangle (985,-450);
\end{tikzpicture}
\end{document}
